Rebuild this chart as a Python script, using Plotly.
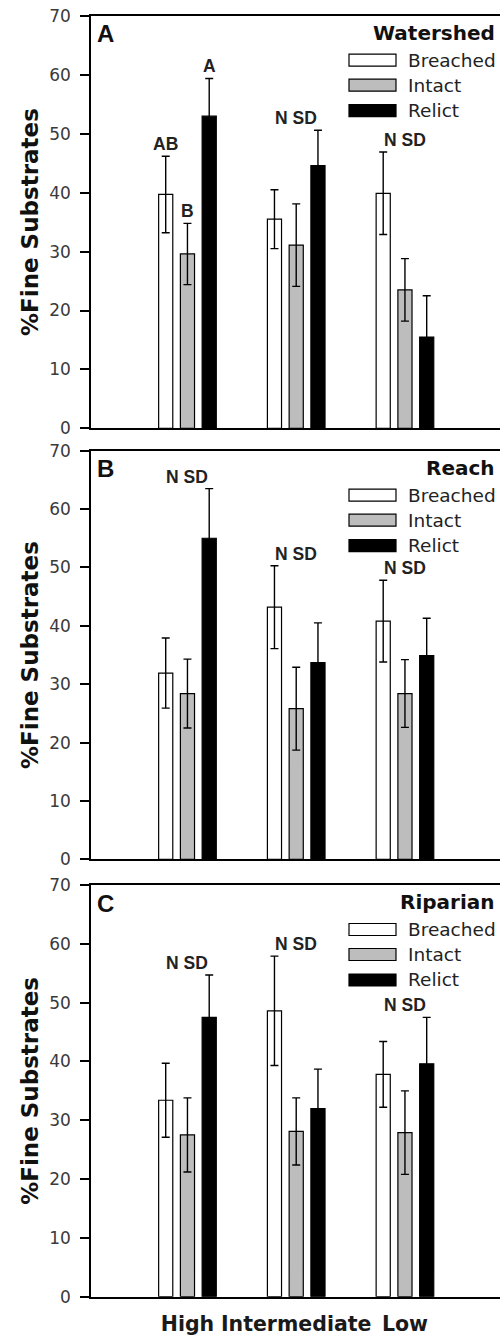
import plotly.graph_objects as go

# ---- data -------------------------------------------------------------
groups = ["High", "Intermediate", "Low"]
group_pos = [0, 1, 2]
series_names = ["Breached", "Intact", "Relict"]
series_fill = ["white", "#bdbdbd", "black"]
panel_titles = ["Watershed", "Reach", "Riparian"]
panel_letters = ["A", "B", "C"]

watershed_breached = [39.7, 35.5, 39.9]
watershed_breached_se = [6.5, 5.0, 7.0]
watershed_intact = [29.6, 31.1, 23.5]
watershed_intact_se = [5.2, 7.0, 5.3]
watershed_relict = [53.0, 44.6, 15.5]
watershed_relict_se = [6.4, 6.0, 7.0]

reach_breached = [31.9, 43.2, 40.8]
reach_breached_se = [6.0, 7.1, 7.0]
reach_intact = [28.4, 25.8, 28.4]
reach_intact_se = [5.9, 7.1, 5.8]
reach_relict = [55.0, 33.7, 34.9]
reach_relict_se = [8.5, 6.8, 6.4]

riparian_breached = [33.4, 48.6, 37.8]
riparian_breached_se = [6.3, 9.3, 5.6]
riparian_intact = [27.5, 28.1, 27.9]
riparian_intact_se = [6.3, 5.7, 7.1]
riparian_relict = [47.5, 32.0, 39.6]
riparian_relict_se = [7.2, 6.7, 7.9]

# significance letters: per-bar letters for the High watershed group,
# "N SD" (no significant difference) above the other groups
watershed_high_letters = ["AB", "B", "A"]
nsd_text = "N SD"

y_ticks = [0, 10, 20, 30, 40, 50, 60, 70]

# ---- layout geometry (pixels) ----------------------------------------
W, H = 500, 1335
PLOT_L, PLOT_R = 91, 500
PLOT_T, PLOT_B = 16, 1297
panel_px = [(15.7, 428.3), (450.7, 859.3), (885.0, 1296.7)]
X_RANGE = [-0.887, 2.874]


def px_x(px):
    return (px - PLOT_L) / (PLOT_R - PLOT_L)


def px_y(py):
    return (PLOT_B - py) / (PLOT_B - PLOT_T)


means = [
    [watershed_breached, watershed_intact, watershed_relict],
    [reach_breached, reach_intact, reach_relict],
    [riparian_breached, riparian_intact, riparian_relict],
]
errs = [
    [watershed_breached_se, watershed_intact_se, watershed_relict_se],
    [reach_breached_se, reach_intact_se, reach_relict_se],
    [riparian_breached_se, riparian_intact_se, riparian_relict_se],
]

BAR_STEP = 0.2  # spacing of bars inside a group (follows bargap below)

fig = go.Figure()
annotations = []
shapes = []

for p in range(3):
    sfx = "" if p == 0 else str(p + 1)
    for s in range(3):
        fig.add_trace(go.Bar(
            x=group_pos,
            y=means[p][s],
            name=series_names[s],
            marker=dict(color=series_fill[s], line=dict(color="black", width=1.2)),
            error_y=dict(type="data", array=errs[p][s], color="black",
                         thickness=1.4, width=4),
            xaxis="x" + sfx,
            yaxis="y" + sfx,
            showlegend=False,
        ))

    top, bot = panel_px[p]
    dom = [max(0.0, px_y(bot)), min(1.0, px_y(top))]
    fig.update_layout(**{
        "xaxis" + sfx: dict(
            domain=[0, 1], anchor="y" + sfx, range=X_RANGE,
            showline=True, linecolor="black", linewidth=1.5, mirror=True,
            ticks="", showgrid=False, zeroline=False,
            tickvals=group_pos, ticktext=groups,
            showticklabels=(p == 2), ticklabelstandoff=8,
            tickfont=dict(family="DejaVu Sans", size=20.5, color="#1a1a1a",
                          weight="bold"),
        ),
        "yaxis" + sfx: dict(
            domain=dom, anchor="x" + sfx, range=[0, 70],
            tickvals=y_ticks, ticks="outside", ticklen=9, tickwidth=1.5,
            tickcolor="black", showline=True, linecolor="black", linewidth=1.5,
            showgrid=False, zeroline=False, ticklabelstandoff=6,
            tickfont=dict(family="DejaVu Sans", size=17, color="#3a3a3a"),
        ),
    })

    # y-axis title
    annotations.append(dict(
        text="%Fine Substrates", xref="paper", yref="paper",
        x=px_x(30), y=px_y((top + bot) / 2), textangle=-90,
        xanchor="center", yanchor="middle", showarrow=False,
        font=dict(family="DejaVu Sans", size=23, color="#111", weight="bold"),
    ))
    # panel letter
    annotations.append(dict(
        text=panel_letters[p], xref="paper", yref="paper",
        x=px_x(95), y=px_y(top + 18), xanchor="left", yanchor="middle",
        showarrow=False,
        font=dict(family="Liberation Sans", size=24, color="#111", weight="bold"),
    ))
    # legend heading
    annotations.append(dict(
        text=panel_titles[p], xref="paper", yref="paper",
        x=px_x(497), y=px_y(top + 17), xanchor="right", yanchor="middle",
        showarrow=False,
        font=dict(family="DejaVu Sans", size=20, color="#111", weight="bold"),
    ))
    # legend rows
    for s, dy in enumerate([44.5, 69.5, 95.0]):
        cy = top + dy
        shapes.append(dict(
            type="rect", xref="paper", yref="paper",
            x0=px_x(349), x1=px_x(396), y0=px_y(cy + 6), y1=px_y(cy - 6),
            fillcolor=series_fill[s], line=dict(color="black", width=1.2),
        ))
        annotations.append(dict(
            text=series_names[s], xref="paper", yref="paper",
            x=px_x(406), y=px_y(cy), xanchor="left", yanchor="middle",
            showarrow=False,
            font=dict(family="DejaVu Sans", size=18.5, color="#222"),
        ))

    # significance labels
    xref = "x" + sfx
    yref = "y" + sfx
    for g in range(3):
        tops = [means[p][s][g] + errs[p][s][g] for s in range(3)]
        if p == 0 and g == 0:
            for s in range(3):
                annotations.append(dict(
                    text=watershed_high_letters[s], xref=xref, yref=yref,
                    x=group_pos[g] + (s - 1) * BAR_STEP, y=tops[s], yshift=12,
                    xanchor="center", yanchor="middle", showarrow=False,
                    font=dict(family="Liberation Sans", size=17.5, color="#222",
                              weight="bold"),
                ))
        else:
            annotations.append(dict(
                text=nsd_text, xref=xref, yref=yref,
                x=group_pos[g], y=max(tops), yshift=12,
                xanchor="center", yanchor="middle", showarrow=False,
                font=dict(family="Liberation Sans", size=17.5, color="#222",
                          weight="bold"),
            ))

fig.update_layout(
    width=W, height=H,
    margin=dict(l=PLOT_L, r=W - PLOT_R, t=PLOT_T, b=H - PLOT_B),
    paper_bgcolor="white", plot_bgcolor="white",
    barmode="group", bargap=0.4, bargroupgap=0.35,
    annotations=annotations, shapes=shapes,
    showlegend=False,
)

fig.write_html("out.html")
